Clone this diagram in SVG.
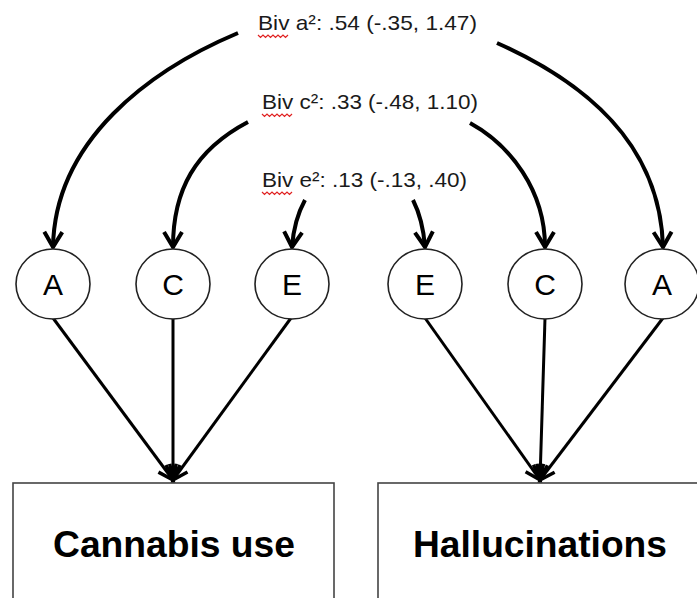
<svg xmlns="http://www.w3.org/2000/svg" width="697" height="598" viewBox="0 0 697 598">
<defs>
<style>
.lbl{font-family:"Liberation Sans",Arial,sans-serif;font-size:21px;fill:#1a1a1a}
.node ellipse{fill:#fff;stroke:#222;stroke-width:1.6}
.node text{font-family:"Liberation Sans",Arial,sans-serif;font-size:30px;fill:#000;text-anchor:middle}
.box rect{fill:#fff;stroke:#444;stroke-width:1.6}
.box text{font-family:"Liberation Sans",Arial,sans-serif;font-size:36px;font-weight:bold;fill:#000;text-anchor:middle}
.curve{fill:none;stroke:#000;stroke-width:4;marker-end:url(#chev)}
.line{fill:none;stroke:#000;stroke-width:3;marker-end:url(#head)}
.squig{fill:none;stroke:#e02020;stroke-width:1.2}
</style>
<marker id="chev" markerUnits="userSpaceOnUse" markerWidth="30" markerHeight="30" viewBox="-20 -15 24 30" refX="0" refY="0" orient="auto">
<path d="M-15,-9 L0,0 L-15,9" fill="none" stroke="#000" stroke-width="4" stroke-linejoin="miter"/>
</marker>
<marker id="head" markerUnits="userSpaceOnUse" markerWidth="30" markerHeight="30" viewBox="-20 -15 24 30" refX="0" refY="0" orient="auto">
<path d="M-15,-7 L0,0 L-15,7" fill="none" stroke="#000" stroke-width="3.5" stroke-linejoin="miter"/>
</marker>
</defs>
<rect width="697" height="598" fill="#fff"/>

<g id="labels">
<text class="lbl" x="258" y="30" textLength="219" lengthAdjust="spacingAndGlyphs">Biv a²: .54 (-.35, 1.47)</text>
<text class="lbl" x="262" y="109" textLength="216" lengthAdjust="spacingAndGlyphs">Biv c²: .33 (-.48, 1.10)</text>
<text class="lbl" x="262" y="187" textLength="205" lengthAdjust="spacingAndGlyphs">Biv e²: .13 (-.13, .40)</text>
<path class="squig" d="M258,35 l2.5,2.5 l2.5,-2.5 l2.5,2.5 l2.5,-2.5 l2.5,2.5 l2.5,-2.5 l2.5,2.5 l2.5,-2.5 l2.5,2.5 l2.5,-2.5 l2.5,2.5 l2.5,-2.5"/>
<path class="squig" d="M262,114 l2.5,2.5 l2.5,-2.5 l2.5,2.5 l2.5,-2.5 l2.5,2.5 l2.5,-2.5 l2.5,2.5 l2.5,-2.5 l2.5,2.5 l2.5,-2.5 l2.5,2.5 l2.5,-2.5"/>
<path class="squig" d="M262,192 l2.5,2.5 l2.5,-2.5 l2.5,2.5 l2.5,-2.5 l2.5,2.5 l2.5,-2.5 l2.5,2.5 l2.5,-2.5 l2.5,2.5 l2.5,-2.5 l2.5,2.5 l2.5,-2.5"/>
</g>

<g id="connectors">
<path class="curve" d="M238,33 C150,70 55,140 53,247"/>
<path class="curve" d="M248,122 C195,150 173,190 173,247"/>
<path class="curve" d="M305,200 Q294,220 292,247"/>
<path class="curve" d="M413,200 Q423,220 425,247"/>
<path class="curve" d="M470,123 C510,145 545,190 545,247"/>
<path class="curve" d="M497,43 C580,80 660,140 663,247"/>
<path class="line" d="M53,318 L173,480"/>
<path class="line" d="M173,318 L173,480"/>
<path class="line" d="M291,318 L173,480"/>
<path class="line" d="M425,318 L540,480"/>
<path class="line" d="M545,318 L540,480"/>
<path class="line" d="M663,318 L540,480"/>
</g>

<g id="node-A1" class="node"><ellipse cx="53" cy="284" rx="37" ry="35"/><text x="53" y="295">A</text></g>
<g id="node-C1" class="node"><ellipse cx="173" cy="284" rx="37" ry="35"/><text x="173" y="295">C</text></g>
<g id="node-E1" class="node"><ellipse cx="292" cy="284" rx="37" ry="35"/><text x="292" y="295">E</text></g>
<g id="node-E2" class="node"><ellipse cx="425" cy="284" rx="37" ry="35"/><text x="425" y="295">E</text></g>
<g id="node-C2" class="node"><ellipse cx="545" cy="284" rx="37" ry="35"/><text x="545" y="295">C</text></g>
<g id="node-A2" class="node"><ellipse cx="662" cy="284" rx="37" ry="35"/><text x="662" y="295">A</text></g>

<g id="node-cannabis" class="box"><rect x="13" y="483" width="321" height="130"/><text x="174" y="557" textLength="242" lengthAdjust="spacingAndGlyphs">Cannabis use</text></g>
<g id="node-hallucinations" class="box"><rect x="378" y="483" width="340" height="130"/><text x="540" y="557" textLength="254" lengthAdjust="spacingAndGlyphs">Hallucinations</text></g>
</svg>
